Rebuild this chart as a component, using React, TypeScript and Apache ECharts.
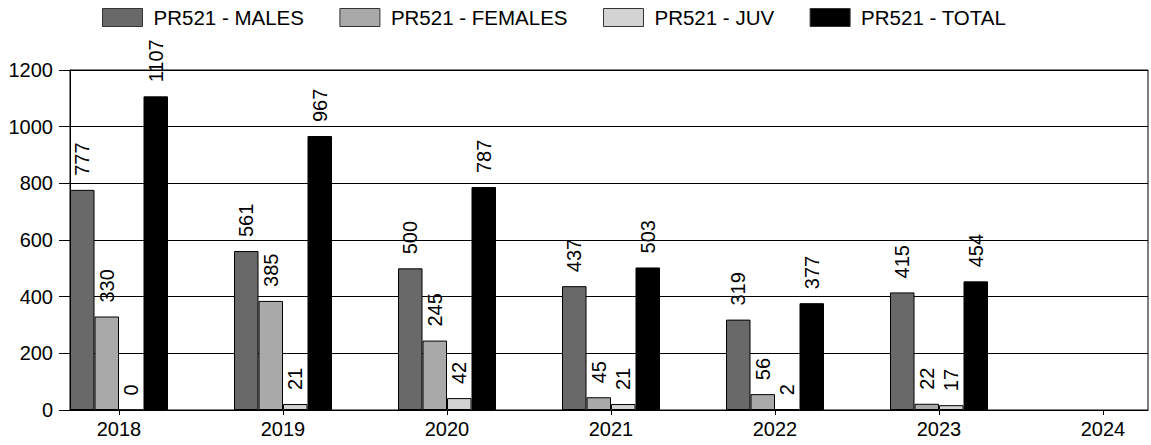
import React, { useEffect, useRef } from "react";
import * as echarts from "echarts";

const years = ["2018", "2019", "2020", "2021", "2022", "2023", "2024"];
const males = [777, 561, 500, 437, 319, 415];
const females = [330, 385, 245, 45, 56, 22];
const juv = [0, 21, 42, 21, 2, 17];
const total = [1107, 967, 787, 503, 377, 454];

const seriesDefs = [
  { name: "PR521 - MALES", data: males, color: "#696969" },
  { name: "PR521 - FEMALES", data: females, color: "#a9a9a9" },
  { name: "PR521 - JUV", data: juv, color: "#d3d3d3" },
  { name: "PR521 - TOTAL", data: total, color: "#000000" },
];

const FONT = "'Liberation Sans', Arial, sans-serif";
const FS = 20;

export default function App() {
  const ref = useRef<HTMLDivElement>(null);
  useEffect(() => {
    if (!ref.current) return;
    const chart = echarts.init(ref.current, null, { renderer: "svg" });
    const idx = years.map((_, i) => i);
    chart.setOption({
      animation: false,
      textStyle: { fontFamily: FONT },
      legend: {
        top: 2,
        left: 97,
        icon: "rect",
        itemWidth: 40,
        itemHeight: 18,
        itemGap: 35.5,
        textStyle: { fontSize: 20.5, color: "#000", fontFamily: FONT, padding: [0, 0, 0, 6] },
        itemStyle: { borderColor: "#333", borderWidth: 1 },
        data: seriesDefs.map((s) => s.name),
      },
      grid: {
        left: 70,
        right: 3,
        top: 70,
        bottom: 35,
        show: true,
        borderColor: "#000",
        borderWidth: 1,
        containLabel: false,
      },
      xAxis: {
        type: "value",
        min: -49 / 164,
        max: 6 + 45 / 164,
        splitLine: { show: false },
        axisLine: { show: true, onZero: false, lineStyle: { color: "#000", width: 1 } },
        axisTick: { show: true, length: 5, customValues: idx, lineStyle: { color: "#000" } },
        axisLabel: {
          customValues: idx,
          formatter: (v: number) => years[Math.round(v)] ?? "",
          fontSize: FS,
          color: "#000",
          margin: 9,
          fontFamily: FONT,
        },
      },
      yAxis: {
        type: "value",
        min: 0,
        max: 1200,
        interval: 200,
        axisLine: { show: true, onZero: false, lineStyle: { color: "#000", width: 1 } },
        axisTick: { show: true, length: 11, lineStyle: { color: "#000" } },
        splitLine: { show: true, lineStyle: { color: "#000", width: 1 } },
        axisLabel: {
          fontSize: FS,
          color: "#000",
          margin: 17,
          fontFamily: FONT,
          formatter: (v: number) => String(v),
        },
      },
      series: seriesDefs.map((s) => ({
        name: s.name,
        type: "bar",
        barWidth: 24.5,
        barGap: "0%",
        data: s.data.map((v, i) => [i, v]),
        itemStyle: { color: s.color, borderColor: "#000", borderWidth: 1 },
        label: {
          show: true,
          position: "top",
          rotate: 90,
          align: "left",
          verticalAlign: "middle",
          distance: 16,
          offset: [-2, 0],
          fontSize: FS,
          color: "#000",
          fontFamily: FONT,
          formatter: (p: any) => String(p.value[1]),
        },
      })),
    });
    return () => chart.dispose();
  }, []);
  return <div ref={ref} style={{ width: 1151, height: 445, position: "absolute", left: 0, top: 0 }} />;
}
